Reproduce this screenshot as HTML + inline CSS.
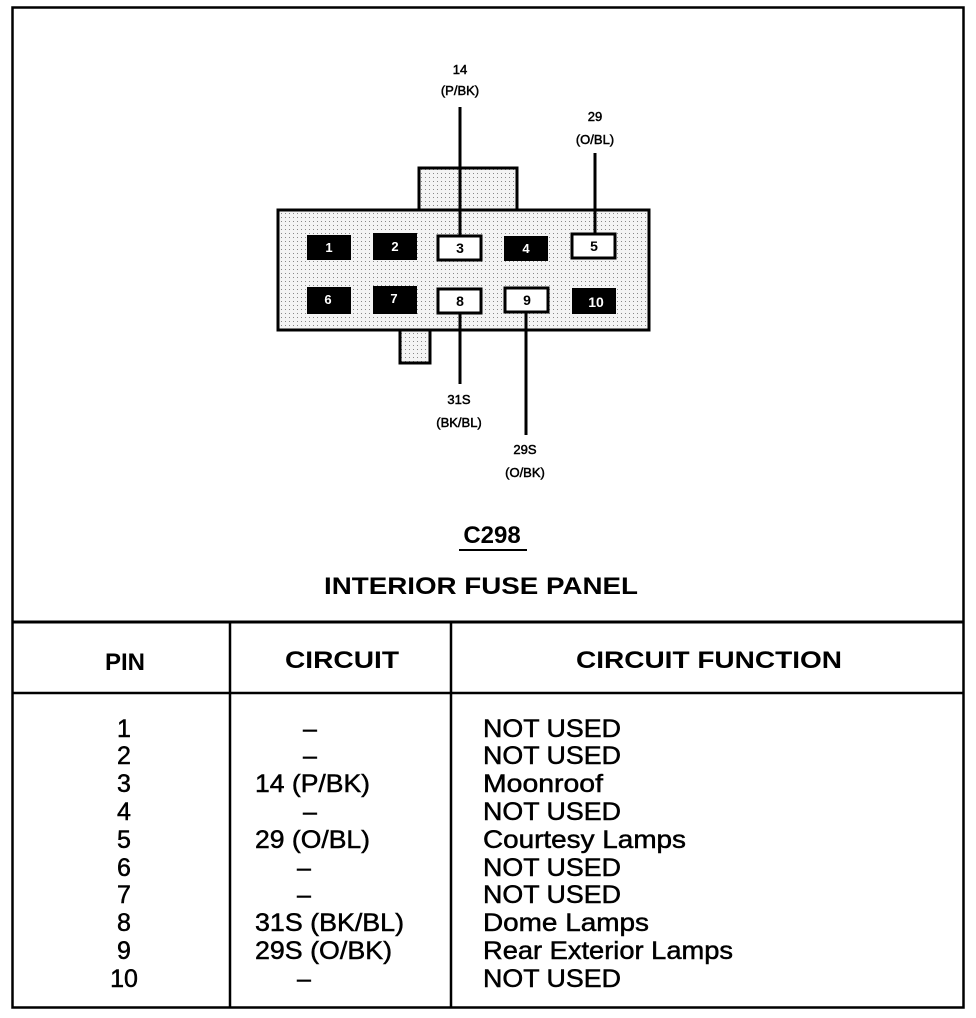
<!DOCTYPE html>
<html><head><meta charset="utf-8"><style>
html,body{margin:0;padding:0;background:#fff;}
svg{display:block;}
text{font-family:"Liberation Sans",Arial,sans-serif;fill:#000;}
.b{stroke:#000;stroke-width:0.5;}
</style></head><body>
<svg width="976" height="1018" viewBox="0 0 976 1018" xmlns="http://www.w3.org/2000/svg">
<defs>
<pattern id="dots" width="4" height="4" patternUnits="userSpaceOnUse">
<rect width="4" height="4" fill="#f4f4f4"/>
<rect x="1" y="1" width="1" height="1" fill="#888"/>
</pattern>
</defs>
<rect x="12.5" y="7.5" width="951" height="1000" fill="none" stroke="#000" stroke-width="2.5"/>
<line x1="12" y1="622" x2="964" y2="622" stroke="#000" stroke-width="3"/>
<line x1="12" y1="693" x2="964" y2="693" stroke="#000" stroke-width="2.5"/>
<line x1="230" y1="622" x2="230" y2="1008" stroke="#000" stroke-width="2.5"/>
<line x1="451" y1="622" x2="451" y2="1008" stroke="#000" stroke-width="2.5"/>

<rect x="419" y="168" width="98" height="43" fill="url(#dots)" stroke="#000" stroke-width="3"/>
<rect x="400" y="329" width="30" height="34" fill="url(#dots)" stroke="#000" stroke-width="3"/>
<rect x="278" y="210" width="371" height="120" fill="url(#dots)" stroke="#000" stroke-width="3"/>

<g font-size="13" font-weight="bold" text-anchor="middle">
<rect x="307" y="235" width="44" height="25" fill="#000"/><text x="329" y="252" style="fill:#fff">1</text>
<rect x="373" y="233" width="44" height="27" fill="#000"/><text x="395" y="251" style="fill:#fff">2</text>
<rect x="438" y="236" width="43" height="24" fill="#fff" stroke="#000" stroke-width="3"/><text x="460" y="253" font-size="14">3</text>
<rect x="504" y="236" width="44" height="25" fill="#000"/><text x="526" y="253" style="fill:#fff">4</text>
<rect x="572" y="234" width="43" height="24" fill="#fff" stroke="#000" stroke-width="3"/><text x="594" y="251" font-size="14">5</text>
<rect x="307" y="287" width="44" height="27" fill="#000"/><text x="328" y="304" style="fill:#fff">6</text>
<rect x="373" y="286" width="44" height="28" fill="#000"/><text x="394" y="303" style="fill:#fff">7</text>
<rect x="438" y="289" width="43" height="24" fill="#fff" stroke="#000" stroke-width="3"/><text x="460" y="306" font-size="14">8</text>
<rect x="505" y="288" width="43" height="24" fill="#fff" stroke="#000" stroke-width="3"/><text x="527" y="305" font-size="14">9</text>
<rect x="572" y="288" width="44" height="26" fill="#000"/><text x="596" y="307" font-size="14" style="fill:#fff">10</text>
</g>

<g stroke="#000" stroke-width="3">
<line x1="460" y1="107" x2="460" y2="236"/>
<line x1="595" y1="153" x2="595" y2="234"/>
<line x1="460" y1="313" x2="460" y2="384"/>
<line x1="526" y1="312" x2="526" y2="435"/>
</g>
<g font-size="13" text-anchor="middle" class="b">
<text x="460" y="74">14</text>
<text x="460" y="95">(P/BK)</text>
<text x="595" y="121">29</text>
<text x="595" y="144">(O/BL)</text>
<text x="459" y="404">31S</text>
<text x="459" y="427">(BK/BL)</text>
<text x="525" y="454">29S</text>
<text x="525" y="477">(O/BK)</text>
</g>

<text x="492" y="543" font-size="24" font-weight="bold" text-anchor="middle">C298</text>
<line x1="459" y1="550" x2="527" y2="550" stroke="#000" stroke-width="2"/>
<text x="481" y="594" font-size="24" font-weight="bold" text-anchor="middle" textLength="314" lengthAdjust="spacingAndGlyphs">INTERIOR FUSE PANEL</text>

<g font-size="24" font-weight="bold" text-anchor="middle">
<text x="125" y="670">PIN</text>
<text x="342" y="668" textLength="114" lengthAdjust="spacingAndGlyphs">CIRCUIT</text>
<text x="709" y="668" textLength="266" lengthAdjust="spacingAndGlyphs">CIRCUIT FUNCTION</text>
</g>

<g font-size="25" class="b">
<g text-anchor="middle">
<text x="124" y="737">1</text>
<text x="124" y="764">2</text>
<text x="124" y="792">3</text>
<text x="124" y="820">4</text>
<text x="124" y="848">5</text>
<text x="124" y="876">6</text>
<text x="124" y="903">7</text>
<text x="124" y="931">8</text>
<text x="124" y="959">9</text>
<text x="124" y="987">10</text>
<text x="310" y="737">–</text>
<text x="310" y="764">–</text>
<text x="310" y="820">–</text>
<text x="304" y="876">–</text>
<text x="304" y="903">–</text>
<text x="304" y="987">–</text>
</g>
<text x="255" y="792" textLength="115" lengthAdjust="spacingAndGlyphs">14 (P/BK)</text>
<text x="255" y="848" textLength="115" lengthAdjust="spacingAndGlyphs">29 (O/BL)</text>
<text x="255" y="931" textLength="149" lengthAdjust="spacingAndGlyphs">31S (BK/BL)</text>
<text x="255" y="959" textLength="137" lengthAdjust="spacingAndGlyphs">29S (O/BK)</text>
<text x="483" y="737" textLength="138" lengthAdjust="spacingAndGlyphs">NOT USED</text>
<text x="483" y="764" textLength="138" lengthAdjust="spacingAndGlyphs">NOT USED</text>
<text x="483" y="792" textLength="120" lengthAdjust="spacingAndGlyphs">Moonroof</text>
<text x="483" y="820" textLength="138" lengthAdjust="spacingAndGlyphs">NOT USED</text>
<text x="483" y="848" textLength="203" lengthAdjust="spacingAndGlyphs">Courtesy Lamps</text>
<text x="483" y="876" textLength="138" lengthAdjust="spacingAndGlyphs">NOT USED</text>
<text x="483" y="903" textLength="138" lengthAdjust="spacingAndGlyphs">NOT USED</text>
<text x="483" y="931" textLength="166" lengthAdjust="spacingAndGlyphs">Dome Lamps</text>
<text x="483" y="959" textLength="250" lengthAdjust="spacingAndGlyphs">Rear Exterior Lamps</text>
<text x="483" y="987" textLength="138" lengthAdjust="spacingAndGlyphs">NOT USED</text>
</g>
</svg>
</body></html>
